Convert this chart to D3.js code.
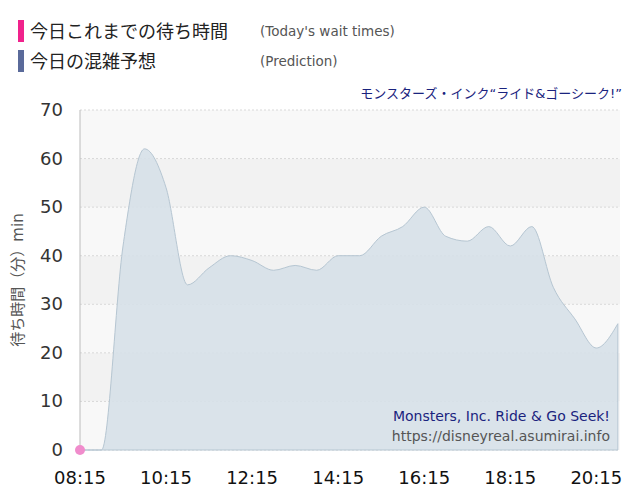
<!DOCTYPE html>
<html lang="ja">
<meta charset="utf-8"/>
<script src="https://d3js.org/d3.v7.min.js"></script>
<title>待ち時間</title>
<body style="margin:0;background:#fff">
<div id="chartDiv"></div>
<script>
    // data, one point every 30 minutes
    const startTime = "08:15";
    const waitPrediction = [0,0,42,62,54,34,37.5,40,39,37,38,37,40,40,44,46,50,44,43,46,42,46,33.5,27,21,26];
    const waitToday = [0];   // only the first point so far
    const xTicks = ["08:15","10:15","12:15","14:15","16:15","18:15","20:15"];
    const yTicks = [0,10,20,30,40,50,60,70];

    const width = 640, height = 500;
    const margin = {left: 80, right: 20, top: 110, bottom: 50};
    const font = "'DejaVu Sans', 'Noto Sans CJK JP', sans-serif";

    const parse = d3.timeParse("%H:%M");
    const t0 = parse(startTime);
    const times = waitPrediction.map((d, i) => d3.timeMinute.offset(t0, i * 30));

    const svg = d3.select("#chartDiv").append("svg")
        .attr("width", width).attr("height", height)
        .style("font-family", font);

    const x = d3.scaleTime()
        .domain([t0, d3.timeMinute.offset(t0, 12 * 60 + 33)])
        .range([margin.left, width - margin.right]);
    const y = d3.scaleLinear().domain([0, 70]).range([height - margin.bottom, margin.top]);

    // alternating bands
    svg.append("g").selectAll("rect").data(d3.range(0, 70, 10)).join("rect")
        .attr("x", margin.left).attr("width", x.range()[1] - margin.left)
        .attr("y", d => y(d + 10)).attr("height", d => y(d) - y(d + 10))
        .attr("fill", d => (d / 10) % 2 ? "#f2f2f2" : "#f8f8f8");

    // grid
    const grid = svg.append("g").attr("stroke", "#d8d8d8").attr("stroke-dasharray", "2,2");
    grid.selectAll(".v").data(d3.timeMinute.every(30).range(t0, x.domain()[1]).filter(d => d.getMinutes() % 30 === 15))
        .join("line").attr("x1", d => x(d)).attr("x2", d => x(d))
        .attr("y1", margin.top).attr("y2", y(0));
    grid.selectAll(".h").data(yTicks).join("line")
        .attr("x1", margin.left).attr("x2", x.range()[1])
        .attr("y1", d => y(d)).attr("y2", d => y(d));

    // prediction area
    const area = d3.area().x((d, i) => x(times[i])).y0(y(0)).y1(d => y(d)).curve(d3.curveMonotoneX);
    svg.append("path").datum(waitPrediction).attr("d", area)
        .attr("fill", "#d6e0e8").attr("fill-opacity", 0.9)
        .attr("stroke", "#b6c6d2").attr("stroke-width", 1);

    // y axis line
    svg.append("line").attr("x1", margin.left).attr("x2", margin.left)
        .attr("y1", margin.top).attr("y2", y(0)).attr("stroke", "#bbb");

    // today's points
    svg.selectAll(".today").data(waitToday).join("circle")
        .attr("cx", (d, i) => x(times[i])).attr("cy", d => y(d)).attr("r", 5)
        .attr("fill", "#f08ccc");

    // axis labels
    svg.append("g").selectAll("text").data(yTicks).join("text")
        .attr("x", 63).attr("y", d => y(d) + 6).attr("text-anchor", "end")
        .attr("font-size", 18).attr("fill", "#333").text(d => d);
    svg.append("g").selectAll("text").data(xTicks).join("text")
        .attr("x", d => x(parse(d))).attr("y", 484).attr("text-anchor", "middle")
        .attr("font-size", 18).attr("fill", "#111").text(d => d);

    svg.append("text").attr("transform", "translate(23,280) rotate(-90)")
        .attr("text-anchor", "middle").attr("font-size", 15).attr("fill", "#555")
        .text("待ち時間（分）min");

    // legend
    const legend = [
        {label: "今日これまでの待ち時間", en: "(Today's wait times)", color: "#f0228c"},
        {label: "今日の混雑予想", en: "(Prediction)", color: "#5a6a9a"}
    ];
    const lg = svg.append("g").selectAll("g").data(legend).join("g")
        .attr("transform", (d, i) => `translate(0,${20 + i * 30})`);
    lg.append("rect").attr("x", 18).attr("width", 6).attr("height", 22).attr("fill", d => d.color);
    lg.append("text").attr("x", 30).attr("y", 18).attr("font-size", 18).attr("fill", "#222").text(d => d.label);
    lg.append("text").attr("x", 260).attr("y", 16).attr("font-size", 13.5).attr("fill", "#555").text(d => d.en);

    svg.append("text").attr("x", 622).attr("y", 98).attr("text-anchor", "end")
        .attr("font-size", 13).attr("fill", "#1a237e").text("モンスターズ・インク“ライド&ゴーシーク!”");
    svg.append("text").attr("x", 610).attr("y", 421).attr("text-anchor", "end")
        .attr("font-size", 14).attr("fill", "#1a237e").text("Monsters, Inc. Ride & Go Seek!");
    svg.append("text").attr("x", 610).attr("y", 441).attr("text-anchor", "end")
        .attr("font-size", 14).attr("fill", "#555").text("https://disneyreal.asumirai.info");
</script>
</body>
</html>
